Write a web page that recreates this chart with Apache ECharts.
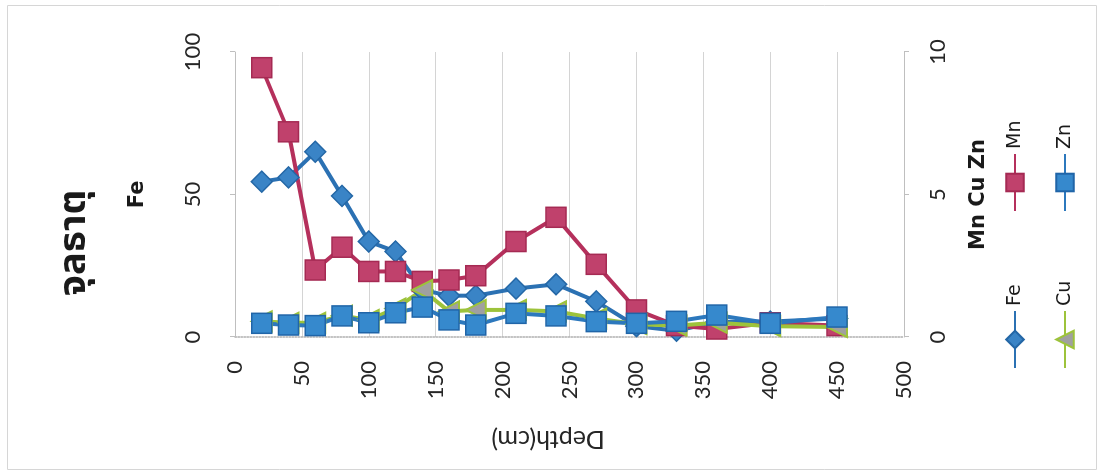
<!DOCTYPE html>
<html>
<head>
<meta charset="utf-8">
<script src="https://cdn.jsdelivr.net/npm/echarts@6/dist/echarts.min.js"></script>
<style>
  html, body { margin: 0; padding: 0; background: #fff; overflow: hidden; }
  body { width: 1103px; height: 475px; position: relative; }
  /* the chart is laid out upright (depth running down) and turned a quarter turn */
  #chart {
    position: absolute; left: 0; top: 0;
    width: 475px; height: 1103px;
    transform-origin: 0 0;
    transform: translateY(475px) rotate(-90deg);
  }
</style>
</head>
<body>
<div id="chart"></div>
<script>
// Sampling depths (cm)
const depth = [20, 40, 60, 80, 100, 120, 140, 160, 180, 210, 240, 270, 300, 330, 360, 400, 450];
// Fe on the primary axis
const fe = [54.5, 56, 65, 49.5, 33.5, 30, 16.5, 14.5, 14.5, 17, 18.5, 12.5, 3.8, 2.2, 5.3, 5.4, 6.5];
// Mn, Cu, Zn on the secondary axis
const mn = [9.45, 7.2, 2.35, 3.15, 2.3, 2.3, 1.95, 2.0, 2.15, 3.35, 4.2, 2.55, 0.95, 0.4, 0.28, 0.5, 0.4];
const cu = [0.55, 0.5, 0.5, 0.75, 0.6, 1.0, 1.65, 0.9, 0.95, 0.95, 0.9, 0.65, 0.45, 0.4, 0.5, 0.38, 0.35];
const zn = [0.48, 0.42, 0.40, 0.74, 0.5, 0.85, 1.05, 0.6, 0.42, 0.83, 0.74, 0.54, 0.48, 0.55, 0.77, 0.48, 0.7];

const titleText = 'จุลธาตุ';
const feAxisName = 'Fe';
const traceAxisName = 'Mn Cu Zn';
const depthAxisName = 'Depth(cm)';

const labelFont = 'Lato, "Open Sans", sans-serif';
const boldFont = '"DejaVu Sans", "Noto Sans", sans-serif';
const labelColor = '#262626';

const pairs = (vals) => depth.map((d, i) => [vals[i], d]);

const chart = echarts.init(document.getElementById('chart'), null, { renderer: 'canvas' });

chart.setOption({
  animation: false,
  backgroundColor: '#fff',
  grid: { left: 138, right: 52, top: 235, bottom: 199 },
  xAxis: [
    {
      type: 'value', position: 'top', min: 0, max: 100, interval: 50,
      name: feAxisName, nameLocation: 'middle', nameGap: 87,
      nameTextStyle: { fontFamily: boldFont, fontWeight: 'bold', fontSize: 21, color: '#1a1a1a' },
      axisLine: { show: true, lineStyle: { color: '#bfbfbf', width: 1 } },
      axisTick: { show: true, length: 5, lineStyle: { color: '#bfbfbf' } },
      axisLabel: { fontFamily: labelFont, fontSize: 22, color: labelColor, margin: 31 },
      splitLine: { show: false }
    },
    {
      type: 'value', position: 'bottom', min: 0, max: 10, interval: 5,
      name: traceAxisName, nameLocation: 'middle', nameGap: 64,
      nameTextStyle: { fontFamily: boldFont, fontWeight: 'bold', fontSize: 21, color: '#1a1a1a' },
      axisLine: { show: true, lineStyle: { color: '#bfbfbf', width: 1 } },
      axisTick: { show: true, length: 5, lineStyle: { color: '#bfbfbf' } },
      axisLabel: { fontFamily: labelFont, fontSize: 22, color: labelColor, margin: 23 },
      splitLine: { show: false }
    }
  ],
  yAxis: {
    type: 'value', inverse: true, min: 0, max: 500, interval: 50,
    axisLine: { show: true, lineStyle: { color: '#b0b0b0', width: 1.5, type: 'dotted' } },
    axisTick: { show: false },
    axisLabel: { fontFamily: labelFont, fontSize: 22, color: labelColor, margin: 24 },
    splitLine: { show: true, lineStyle: { color: '#d4d4d4', width: 1 } }
  },
  legend: [
    {
      orient: 'vertical', left: 101, top: 998,
      itemWidth: 57, itemHeight: 22, itemGap: 26,
      data: ['Fe', 'Cu'],
      textStyle: { fontFamily: boldFont, fontSize: 19, color: '#1a1a1a', lineHeight: 24 }
    },
    {
      orient: 'vertical', left: 258, top: 998,
      itemWidth: 57, itemHeight: 22, itemGap: 26,
      data: ['Mn', 'Zn'],
      textStyle: { fontFamily: boldFont, fontSize: 19, color: '#1a1a1a', lineHeight: 24 }
    }
  ],
  graphic: [
    {
      type: 'rect', silent: true, z: -1,
      shape: { x: 5.5, y: 7.5, width: 464, height: 1089 },
      style: { fill: 'none', stroke: '#d6d6d6', lineWidth: 1 }
    },
    {
      type: 'text', x: 232, y: 77,
      style: {
        text: titleText, fontFamily: '"Noto Sans Thai", "Noto Sans", sans-serif',
        fontWeight: 'bold', fontSize: 38, fill: '#1a1a1a',
        align: 'center', verticalAlign: 'middle'
      }
    },
    {
      type: 'text', x: 36, y: 548, rotation: Math.PI / 2,
      style: {
        text: depthAxisName, fontFamily: labelFont, fontSize: 25, fill: labelColor,
        align: 'center', verticalAlign: 'middle'
      }
    }
  ],
  series: [
    {
      name: 'Fe', type: 'line', xAxisIndex: 0, data: pairs(fe),
      symbol: 'diamond', symbolSize: 21,
      lineStyle: { color: '#2b71b3', width: 4 },
      itemStyle: { color: '#3a84c6', borderColor: '#2467a6', borderWidth: 1.5 }
    },
    {
      name: 'Mn', type: 'line', xAxisIndex: 1, data: pairs(mn),
      symbol: 'rect', symbolSize: 20,
      lineStyle: { color: '#b5305c', width: 4 },
      itemStyle: { color: '#c0416c', borderColor: '#a52a53', borderWidth: 1.5 }
    },
    {
      name: 'Cu', type: 'line', xAxisIndex: 1, data: pairs(cu),
      symbol: 'triangle', symbolSize: 20,
      lineStyle: { color: '#9dc33b', width: 4 },
      itemStyle: { color: '#a0a0a0', borderColor: '#9dc33b', borderWidth: 2 }
    },
    {
      name: 'Zn', type: 'line', xAxisIndex: 1, data: pairs(zn),
      symbol: 'rect', symbolSize: 20,
      lineStyle: { color: '#2c78bd', width: 4 },
      itemStyle: { color: '#3689cd', borderColor: '#2065a8', borderWidth: 1.5 }
    }
  ]
});
</script>
</body>
</html>
